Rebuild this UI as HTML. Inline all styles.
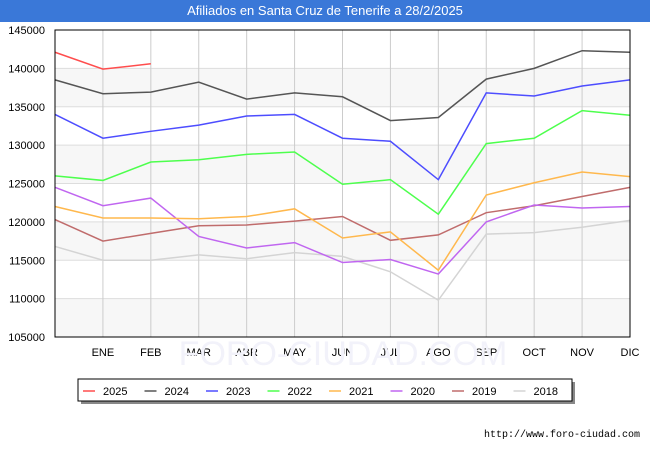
<!DOCTYPE html>
<html><head><meta charset="utf-8"><style>
body{margin:0;width:650px;height:450px;background:#fff;font-family:"Liberation Sans",sans-serif;overflow:hidden}
#title{position:absolute;left:0;top:0;width:650px;height:22px;background:#3a78d8;color:#fff;font-size:13px;text-align:center;line-height:22px}
svg{position:absolute;left:0;top:0}
</style></head><body>
<div id="title">Afiliados en Santa Cruz de Tenerife a 28/2/2025</div>
<svg id="chart" width="650" height="450"></svg>
<script>
const months=["","ENE","FEB","MAR","ABR","MAY","JUN","JUL","AGO","SEP","OCT","NOV","DIC"];
const yTicks=[105000,110000,115000,120000,125000,130000,135000,140000,145000];
const seriesNames=["2025","2024","2023","2022","2021","2020","2019","2018"];
const seriesColors=["#ff4d4d","#555555","#4d4dff","#4dff4d","#ffb84d","#c066f0","#c06c6c","#d4d4d4"];
const s2025=[142100,139900,140600];
const s2024=[138500,136700,136900,138200,136000,136800,136300,133200,133600,138600,140000,142300,142100];
const s2023=[134000,130900,131800,132600,133800,134000,130900,130500,125500,136800,136400,137700,138500];
const s2022=[126000,125400,127800,128100,128800,129100,124900,125500,121000,130200,130900,134500,133900];
const s2021=[122000,120500,120500,120400,120700,121700,117900,118700,113700,123500,125100,126500,125900];
const s2020=[124500,122100,123100,118100,116600,117300,114700,115100,113200,120000,122200,121800,122000];
const s2019=[120300,117500,118500,119500,119600,120100,120700,117600,118300,121200,122100,123300,124500];
const s2018=[116800,115000,115000,115700,115200,116000,115500,113500,109800,118400,118600,119300,120200];
const allSeries=[s2025,s2024,s2023,s2022,s2021,s2020,s2019,s2018];

const L=55,R=630,T=30,B=337,ymin=105000,ymax=145000;
const xs=i=>L+i*(R-L)/12;
const ys=v=>B-(v-ymin)/(ymax-ymin)*(B-T);
const svg=document.getElementById('chart');
const NS="http://www.w3.org/2000/svg";
function mk(t,a,p){const e=document.createElementNS(NS,t);for(const k in a)e.setAttribute(k,a[k]);(p||svg).appendChild(e);return e;}
for(let i=0;i<yTicks.length-1;i++){
  if(i%2===0){const b=mk('rect',{x:L,y:ys(yTicks[i+1]),width:R-L,height:ys(yTicks[i])-ys(yTicks[i+1]),fill:'#f7f7f7'});
  
  }
}
yTicks.forEach(v=>{
  const g=mk('line',{x1:L,x2:R,y1:ys(v),y2:ys(v),stroke:'#dddddd','stroke-width':1});
  
  
  const t=mk('text',{x:L-10,y:ys(v)+4,'text-anchor':'end','font-size':11,fill:'#000'});
  t.textContent=v;
  
  
});
months.forEach((m,i)=>{
  if(i>0){const g=mk('line',{x1:xs(i),x2:xs(i),y1:T,y2:B,stroke:'#cccccc','stroke-width':1});
  
  }
  if(m){const t=mk('text',{x:xs(i),y:B+19,'text-anchor':'middle','font-size':11,fill:'#000'});
  t.textContent=m;
  
  }
});
const wm=mk('text',{x:343,y:365,'text-anchor':'middle','font-size':34,fill:'#f2f2fa'});
wm.textContent='FORO-CIUDAD.COM';


for(let k=allSeries.length-1;k>=0;k--){
  const pts=allSeries[k].map((v,i)=>xs(i)+','+ys(v)).join(' ');
  const p=mk('polyline',{points:pts,fill:'none',stroke:seriesColors[k],'stroke-width':1.5});
  
  
}
const ax=mk('rect',{x:L,y:T,width:R-L,height:B-T,fill:'none',stroke:'#000','stroke-width':1});


mk('rect',{x:81,y:382,width:494,height:22,fill:'#888'});
const lg=mk('rect',{x:78,y:379,width:494,height:22,fill:'#fff',stroke:'#000','stroke-width':1});


seriesNames.forEach((n,k)=>{
  const x0=83+k*61.5;
  const l=mk('line',{x1:x0,x2:x0+12,y1:391,y2:391,stroke:seriesColors[k],'stroke-width':1.5});
  
  
  const t=mk('text',{x:x0+20,y:395,'font-size':11,fill:'#000'});
  t.textContent=n;
  
  
});
const u=mk('text',{x:640,y:437,'text-anchor':'end','font-size':10,fill:'#000','font-family':'Liberation Mono, monospace'});
u.textContent='http://www.foro-ciudad.com';


</script>
</body></html>
